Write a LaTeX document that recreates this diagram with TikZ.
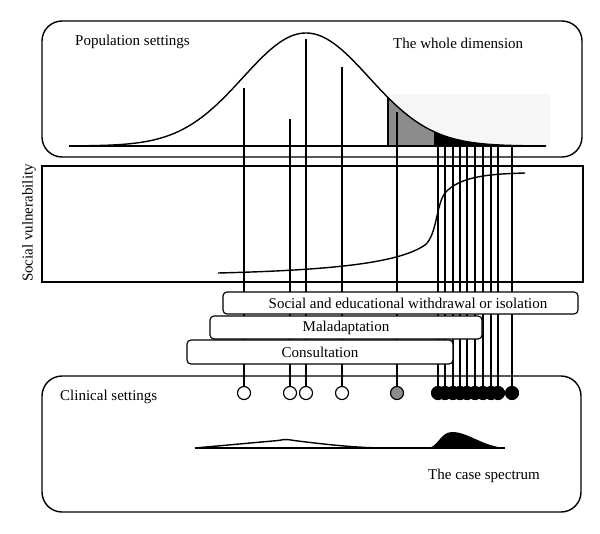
\documentclass[tikz,border=0pt]{standalone}
\usepackage{fontspec}
\setmainfont{Liberation Serif}
\usetikzlibrary{positioning}
\definecolor{Shade}{HTML}{8C8C8C}
\definecolor{Haze}{HTML}{F6F6F6}

\begin{document}
\begin{tikzpicture}[x=0.03cm,y=-0.03cm,
  panel/.style={draw=black,line width=1.2pt,rounded corners=0.6cm},
  band/.style={draw=black,fill=white,line width=1pt,rounded corners=0.12cm,inner sep=0pt,font=\fontsize{12.8}{15}\selectfont},
  drop/.style={draw=black,line width=1.1pt},
  curve/.style={draw=black,line width=1.2pt},
  case/.style={circle,draw=black,line width=1pt,minimum size=0.39cm,inner sep=0pt},
  caption/.style={font=\fontsize{12.8}{15}\selectfont,text=black,inner sep=0pt}
]
\useasboundingbox (0,0) rectangle (600,533);
% population: normal curve with its shaded tail
\fill[Haze] (388,94) rectangle (550,146);
\fill[Shade] (388,146) -- plot[domain=388:434,samples=30] (\x,{146-113*exp(-0.5*((\x-306)/63)^2)}) -- (434,146) -- cycle;
\fill[black] (434,146) -- plot[domain=434:546,samples=60] (\x,{146-113*exp(-0.5*((\x-306)/63)^2)}) -- (546,146) -- cycle;
\draw[curve] plot[domain=69:546,samples=160] (\x,{146-113*exp(-0.5*((\x-306)/63)^2)});
\draw[curve] (69,146) -- (546,146);
\draw[curve] (388,97) -- (388,146);
\draw[panel] (42,21) rectangle (582,157);
\node[caption,anchor=west] (popname) at (75,42) {Population settings};
\node[caption,anchor=west] (wholename) at (393,43) {The whole dimension};
% top ends of the individual lines
\coordinate (t1) at (244,88); \coordinate (t2) at (290,119); \coordinate (t3) at (306,39); \coordinate (t4) at (342,67);
\coordinate (g0) at (397,112);
\coordinate (k1) at (438,146); \coordinate (k2) at (445,146); \coordinate (k3) at (453,146); \coordinate (k4) at (460,146); \coordinate (k5) at (467,146);
\coordinate (k6) at (475,146); \coordinate (k7) at (483,146); \coordinate (k8) at (491,146); \coordinate (k9) at (498,146); \coordinate (k10) at (512,146);
% cases in the clinic
\node[case,fill=white] (c1) at (244,393) {}; \node[case,fill=white] (c2) at (290,393) {}; \node[case,fill=white] (c3) at (306,393) {}; \node[case,fill=white] (c4) at (342,393) {};
\node[case,fill=Shade] (g1) at (397,393) {};
\draw[drop] (t1) -- (c1); \draw[drop] (t2) -- (c2); \draw[drop] (t3) -- (c3); \draw[drop] (t4) -- (c4); \draw[drop] (g0) -- (g1);
\draw[drop] (k1) -- (438,386); \draw[drop] (k2) -- (445,386); \draw[drop] (k3) -- (453,386); \draw[drop] (k4) -- (460,386); \draw[drop] (k5) -- (467,386);
\draw[drop] (k6) -- (475,386); \draw[drop] (k7) -- (483,386); \draw[drop] (k8) -- (491,386); \draw[drop] (k9) -- (498,386); \draw[drop] (k10) -- (512,386);
\node[case,fill=black] (b1) at (438,393) {}; \node[case,fill=black] (b2) at (445,393) {}; \node[case,fill=black] (b3) at (453,393) {}; \node[case,fill=black] (b4) at (460,393) {}; \node[case,fill=black] (b5) at (467,393) {};
\node[case,fill=black] (b6) at (475,393) {}; \node[case,fill=black] (b7) at (483,393) {}; \node[case,fill=black] (b8) at (491,393) {}; \node[case,fill=black] (b9) at (498,393) {}; \node[case,fill=black] (b10) at (512,393) {};
% social vulnerability
\draw[line width=1pt] (42,166) rectangle (583,282);
\node[caption,rotate=90] (vulname) at (29,223) {Social vulnerability};
\draw[curve] (218,273) .. controls (340,270) and (400,262) .. (425,245) .. controls (437,235) and (436,205) .. (445,193) .. controls (460,176) and (490,174) .. (525,173);
% thresholds
\node[band,minimum width=10.65cm,minimum height=0.66cm] (withdraw) at (400.5,303) {\hspace*{0.45cm}Social and educational withdrawal or isolation};
\node[band,minimum width=8.16cm,minimum height=0.69cm] (maladapt) at (346,327.5) {Maladaptation};
\node[band,minimum width=7.98cm,minimum height=0.72cm] (consult) at (320,352) {Consultation};
% clinical settings
\draw[panel] (42,376) rectangle (581,512);
\node[caption,anchor=west] (clinname) at (60,397) {Clinical settings};
\node[caption,anchor=west] (specname) at (428,476) {The case spectrum};
\draw[curve] (195,448) -- (505,448);
\draw[curve] (195,448) -- (278,440.5) .. controls (286,439.2) .. (294,440.5) .. controls (330,445) and (355,447.5) .. (382,448);
\fill[black] (427,448) .. controls (438,448) and (440,432) .. (452,432) .. controls (468,432) and (482,446) .. (505,448) -- cycle;
\end{tikzpicture}
\end{document}
